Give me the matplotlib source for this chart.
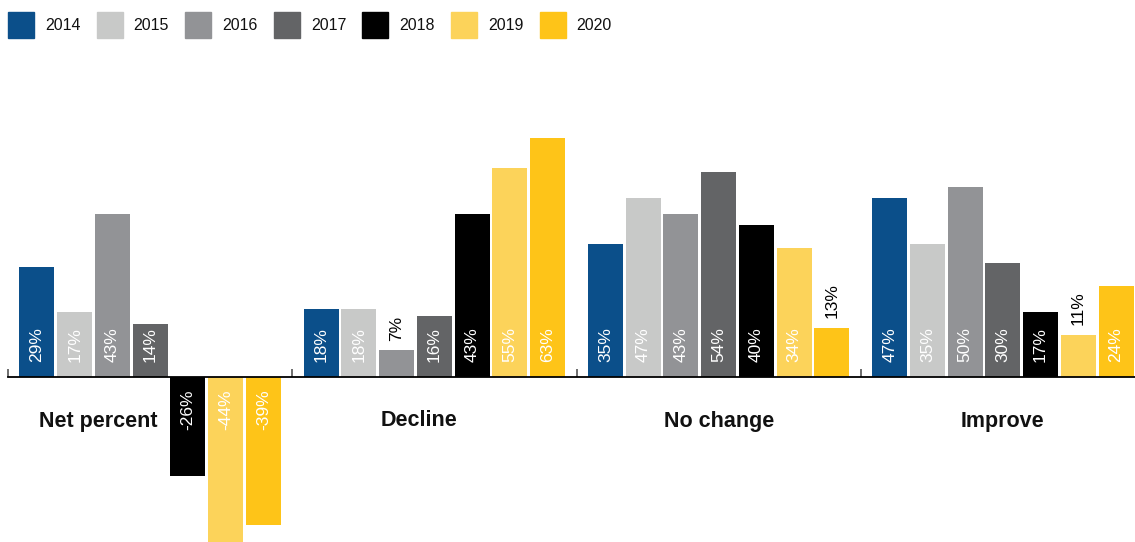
import numpy as np
import matplotlib.pyplot as plt
from matplotlib.patches import Rectangle

plt.rcParams['font.family'] = ['Liberation Sans', 'DejaVu Sans']

categories = ["Net percent", "Decline", "No change", "Improve"]
years = ["2014", "2015", "2016", "2017", "2018", "2019", "2020"]
colors = ["#0b4f8a", "#c8c9c8", "#929396", "#636466", "#000000", "#fcd35a", "#fec418"]

# percent per year, one list per category
net_percent = [29, 17, 43, 14, -26, -44, -39]
decline = [18, 18, 7, 16, 43, 55, 63]
no_change = [35, 47, 43, 54, 40, 34, 13]
improve = [47, 35, 50, 30, 17, 11, 24]
values = [net_percent, decline, no_change, improve]

W, H = 1135, 542
fig = plt.figure(figsize=(W / 100, H / 100), dpi=100)
px = 3.8  # pixels per percent
ax = fig.add_axes([8 / W, 0, 1137 / W, 452 / H])
ax.set_xlim(-0.5, 3.5)
ax.set_ylim(-(H - 377) / px, (377 - 90) / px)

pitch = 0.1327
width = 0.123
offsets = (np.arange(len(years)) - 3) * pitch

for g, vals in enumerate(values):
    for i, v in enumerate(vals):
        x = g + offsets[i]
        ax.bar(x, v, width=width, color=colors[i], zorder=2)
        if v < 0:
            ax.annotate(f"{v}%", (x, 0), xytext=(0, -9), textcoords="offset points",
                        rotation=90, ha="center", va="top", color="white", fontsize=12.5)
        elif v <= 13:
            ax.annotate(f"{v}%", (x, v), xytext=(0, 7), textcoords="offset points",
                        rotation=90, ha="center", va="bottom", color="black", fontsize=12.5)
        else:
            ax.annotate(f"{v}%", (x, 0), xytext=(0, 11), textcoords="offset points",
                        rotation=90, ha="center", va="bottom", color="white", fontsize=12.5)

# category names under the axis line
cat_shift = [-0.181, -0.053, 0, 0]
for g, name in enumerate(categories):
    ax.text(g + cat_shift[g], -44 / px, name, ha="center", va="center",
            fontsize=15.5, fontweight="bold", color="#111111")

for s in ["top", "right", "left"]:
    ax.spines[s].set_visible(False)
ax.spines["bottom"].set_position(("data", 0))
ax.spines["bottom"].set_linewidth(1.3)
ax.spines["bottom"].set_zorder(3)
ax.set_yticks([])
ax.set_xticks([-0.5, 0.5, 1.5, 2.5, 3.5])
ax.set_xticklabels([])
ax.tick_params(axis="x", direction="in", length=6, width=1.2, color="#555555")

# legend row
for i, yr in enumerate(years):
    x0 = 8 + 88.6 * i
    fig.patches.append(Rectangle((x0 / W, 1 - 38 / H), 26 / W, 26 / H,
                                 transform=fig.transFigure, color=colors[i]))
    fig.text((x0 + 37) / W, 1 - 26 / H, yr, ha="left", va="center",
             fontsize=11.5, color="#111111")

fig.savefig("out.png", dpi=100)
